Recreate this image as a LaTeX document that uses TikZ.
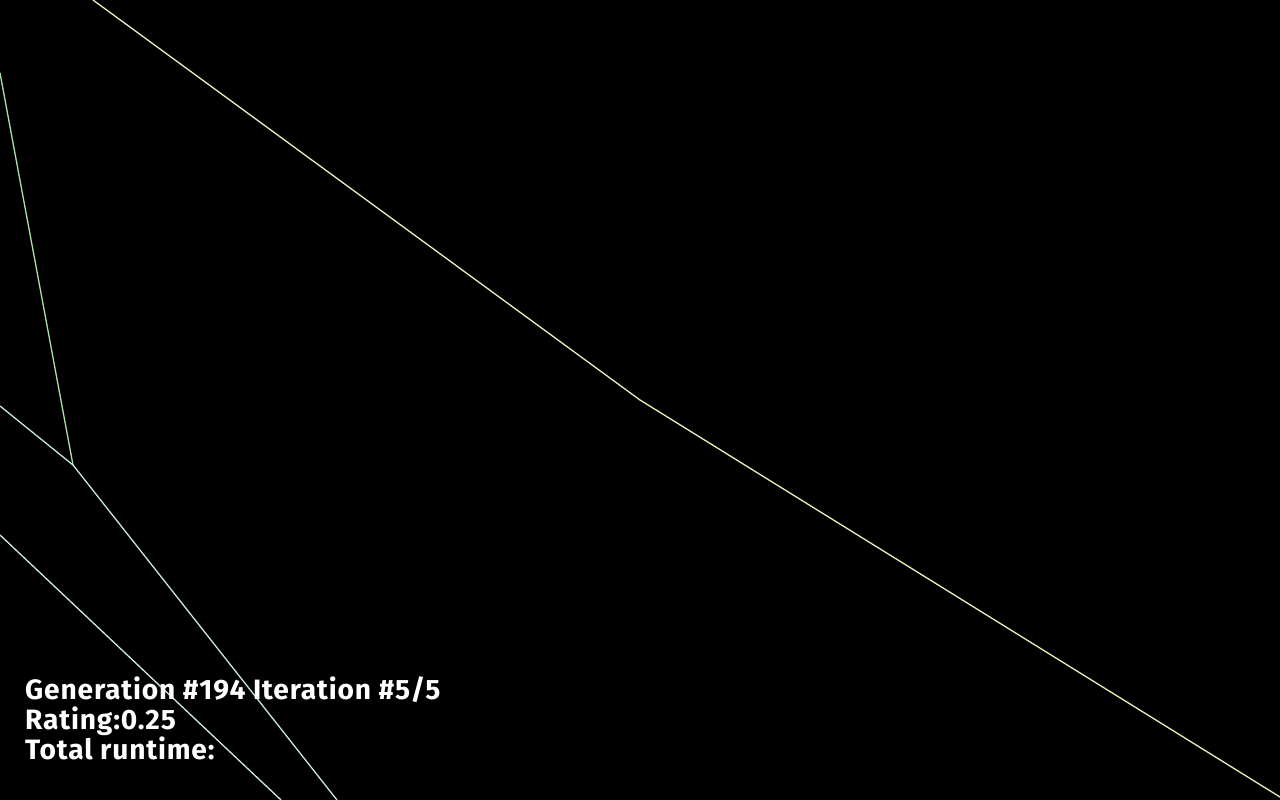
\documentclass[tikz,border=0pt]{standalone}
\usepackage{fontspec}
\setmainfont{Fira Sans}[LetterSpace=3]
\begin{document}
\begin{tikzpicture}[x=1pt,y=-1pt,
  trail/.style={line width=1.3pt,line cap=round,line join=round},
  info/.style={anchor=base west,inner sep=0pt,text=white,font=\fontsize{28}{30}\selectfont\bfseries}]
\definecolor{lineA}{HTML}{ECEFB8}
\definecolor{lineB}{HTML}{A8E2A4}
\definecolor{lineC}{HTML}{C6EAD6}
\definecolor{lineD}{HTML}{CDEBE4}
\fill[black] (0,0) rectangle (1280,800);
\useasboundingbox (0,0) rectangle (1280,800);
\coordinate (a1) at (93,0);
\coordinate (a2) at (640,400);
\coordinate (a3) at (1280,797);
\coordinate (b1) at (0,73);
\coordinate (j) at (73,465);
\coordinate (c1) at (0,406);
\coordinate (c3) at (337,800);
\coordinate (d1) at (0,535);
\coordinate (d2) at (281,800);
\draw[trail,lineA] (a1) -- (a2) -- (a3);
\draw[trail,lineB] (b1) -- (j);
\draw[trail,lineC] (c1) -- (j) -- (c3);
\draw[trail,lineD] (d1) -- (d2);
\node[info] (t1) at (25,699) {\scalebox{1.005}[1]{Generation \#194 Iteration \#5/5}};
\node[info] (t2) at (25,729) {\scalebox{1.005}[1]{Rating:0.25}};
\node[info] (t3) at (25,759) {\scalebox{1.005}[1]{Total runtime:}};
\end{tikzpicture}
\end{document}
